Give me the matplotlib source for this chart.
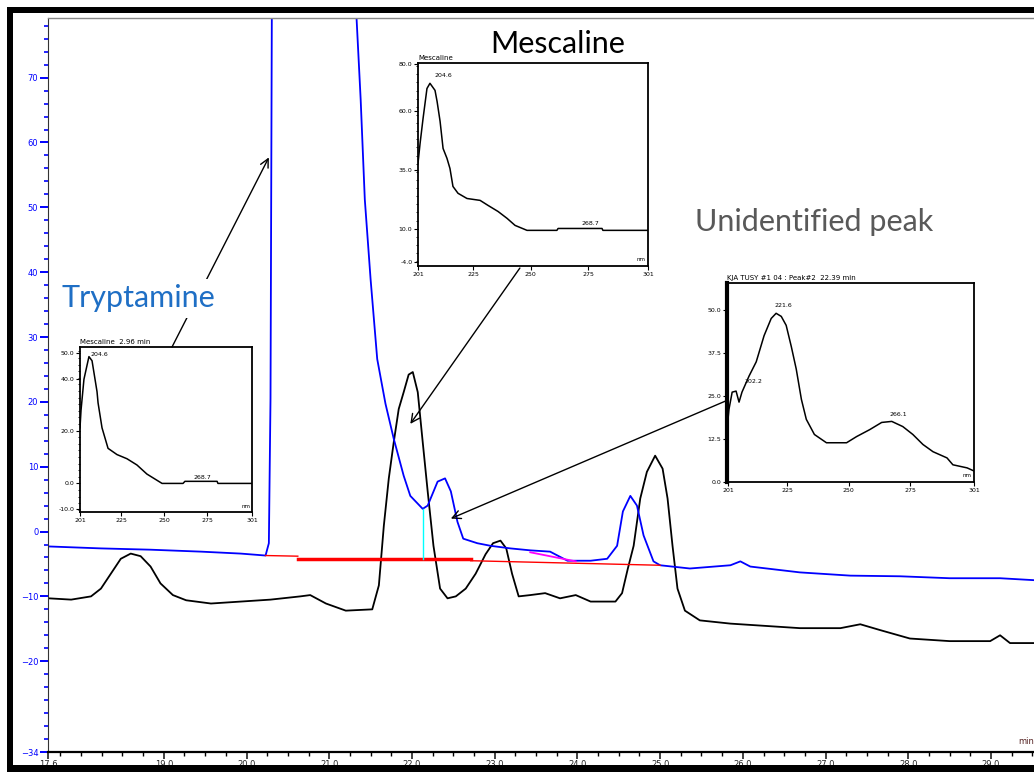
import matplotlib.pyplot as plt
from matplotlib.patches import ConnectionPatch, Rectangle
from matplotlib.ticker import MultipleLocator

# chromatogram traces (time in min, signal in mAU)
black_t = [17.61, 17.88, 18.12, 18.24, 18.36, 18.48, 18.60, 18.72, 18.84, 18.96,
           19.11, 19.27, 19.57, 19.93, 20.29, 20.65, 20.77, 20.96, 21.20, 21.52,
           21.60, 21.66, 21.72, 21.78, 21.84, 21.90, 21.96, 22.01, 22.07, 22.13,
           22.19, 22.26, 22.34, 22.43, 22.53, 22.65, 22.77, 22.89, 22.98, 23.07,
           23.14, 23.21, 23.29, 23.43, 23.61, 23.79, 23.98, 24.16, 24.46, 24.54,
           24.61, 24.68, 24.76, 24.84, 24.94, 25.03, 25.09, 25.15, 25.21, 25.30,
           25.48, 25.85, 26.21, 26.69, 27.18, 27.42, 27.66, 28.02, 28.50, 28.99,
           29.11, 29.23, 29.52]
black_y = [-10.3, -10.5, -10.0, -8.8, -6.5, -4.2, -3.4, -3.8, -5.4, -8.0,
           -9.8, -10.6, -11.1, -10.8, -10.5, -10.0, -9.8, -11.1, -12.2, -12.0,
           -8.3, 0.9, 8.2, 13.8, 18.9, 21.5, 24.2, 24.6, 21.5, 13.8,
           6.2, -2.2, -8.8, -10.3, -10.0, -8.8, -6.5, -3.5, -1.8, -1.4,
           -2.6, -6.5, -10.0, -9.8, -9.5, -10.3, -9.8, -10.8, -10.8, -9.5,
           -5.7, -2.2, 5.1, 9.2, 11.7, 9.7, 5.1, -2.2, -8.8, -12.2,
           -13.7, -14.2, -14.5, -14.9, -14.9, -14.3, -15.2, -16.5, -16.9, -16.9,
           -16.0, -17.2, -17.2]

blue_t = [17.61, 18.24, 18.84, 19.45, 19.93, 20.23, 20.27, 20.29, 20.31, 20.80,
          21.32, 21.33, 21.38, 21.43, 21.50, 21.58, 21.68, 21.78, 21.90, 21.98,
          22.13, 22.19, 22.31, 22.40, 22.47, 22.55, 22.62, 22.79, 22.95, 23.19,
          23.43, 23.67, 23.88, 24.16, 24.36, 24.48, 24.55, 24.64, 24.72, 24.80,
          24.92, 25.00, 25.36, 25.85, 25.97, 26.09, 26.69, 27.30, 27.90, 28.50,
          29.11, 29.52]
blue_y = [-2.3, -2.6, -2.8, -3.1, -3.4, -3.7, -1.8, 20.5, 95, 180,
          95, 79.2, 66.6, 51.2, 38.9, 26.6, 19.7, 14.3, 8.6, 5.5,
          3.5, 4.0, 7.7, 8.2, 6.2, 1.5, -1.1, -1.8, -2.2, -2.6,
          -2.9, -3.1, -4.5, -4.5, -4.2, -2.2, 3.1, 5.5, 4.0, -0.6,
          -4.6, -5.2, -5.7, -5.2, -4.6, -5.4, -6.3, -6.8, -6.9, -7.2,
          -7.2, -7.5]

# integration baselines
base1_t, base1_y = [20.23, 20.62], [-3.7, -3.8]
base2_t, base2_y = [20.62, 22.71], [-4.2, -4.2]
base3_t, base3_y = [22.71, 25.00], [-4.5, -5.2]
mag_t, mag_y = [23.43, 23.98], [-3.2, -4.6]
drop_t, drop_y = [22.13, 22.13], [3.5, -4.2]

# UV spectra (nm, mAU)
spec1_nm = [201.0, 201.6, 203.3, 206.2, 208.0, 210.9, 211.5, 213.8, 217.3, 222.5,
            228.3, 234.1, 239.9, 248.7, 260.9, 262.0, 280.7, 281.2, 301.0]
spec1_y = [21.4, 28.2, 40.1, 48.8, 47.2, 35.3, 31.0, 21.4, 13.5, 11.1,
           9.5, 7.1, 3.6, 0.0, 0.0, 0.8, 0.8, 0.0, 0.0]

spec2_nm = [201.0, 201.9, 203.2, 204.9, 206.2, 208.4, 209.3, 210.6, 211.9, 213.6,
            214.9, 216.2, 218.4, 222.3, 228.0, 231.4, 235.8, 239.7, 243.2, 248.4,
            261.4, 261.9, 281.0, 281.4, 301.0]
spec2_y = [38.0, 46.4, 57.0, 69.7, 71.9, 68.9, 64.2, 55.8, 44.3, 40.1,
           35.8, 28.2, 25.3, 23.1, 22.3, 20.2, 17.6, 14.7, 11.7, 9.6,
           9.6, 10.4, 10.4, 9.6, 9.6]

spec3_nm = [200.4, 201.2, 202.5, 204.1, 205.3, 206.5, 209.4, 212.3, 215.5, 218.4,
            220.4, 222.5, 224.5, 226.6, 228.6, 230.7, 232.7, 236.0, 240.9, 249.1,
            253.2, 258.5, 263.4, 267.5, 272.0, 276.1, 280.2, 284.3, 290.0, 292.4,
            298.2, 301.0]
spec3_y = [15.2, 21.1, 26.1, 26.4, 23.2, 26.1, 30.8, 34.9, 42.5, 47.5,
           49.0, 48.1, 45.5, 39.3, 32.8, 24.0, 18.2, 13.8, 11.4, 11.4,
           13.2, 15.2, 17.3, 17.6, 16.1, 13.8, 10.9, 8.8, 7.0, 5.0,
           4.1, 3.2]

W, H = 1034, 772
fig = plt.figure(figsize=(W / 100, H / 100), dpi=100)

# outer black frame of the screenshot
for x0, y0, w, h in [(7, 0, 6, 765), (7, 759, 1027, 6), (7, 0, 1027, 7)]:
    fig.add_artist(Rectangle((x0 / W, y0 / H), w / W, h / H, transform=fig.transFigure,
                             facecolor="black", edgecolor="none", zorder=10))

ax = fig.add_axes([48 / W, 20 / H, 1 - 48 / W, 734 / H])
ax.plot(black_t, black_y, color="black", lw=1.3, solid_joinstyle="round")
ax.plot(blue_t, blue_y, color="#0000ff", lw=1.3, solid_joinstyle="round")
ax.plot(base1_t, base1_y, color="red", lw=1.0)
ax.plot(base2_t, base2_y, color="red", lw=2.5)
ax.plot(base3_t, base3_y, color="red", lw=1.0)
ax.plot(mag_t, mag_y, color="magenta", lw=1.3)
ax.plot(drop_t, drop_y, color="cyan", lw=1.0)
ax.set_xlim(17.61, 29.52)
ax.set_ylim(-34, 79.2)

ax.spines["right"].set_visible(False)
ax.spines["top"].set_color("#888888")
ax.spines["top"].set_linewidth(1.0)
ax.spines["left"].set_color("#333333")
ax.spines["bottom"].set_linewidth(1.6)

ax.set_xticks([17.6] + list(range(19, 30)))
ax.set_xticklabels(["17.6"] + ["%.1f" % v for v in range(19, 30)])
ax.xaxis.set_minor_locator(MultipleLocator(0.25))
ax.tick_params(axis="x", which="major", length=5, width=1.2, labelsize=6, pad=1, colors="#222222")
ax.tick_params(axis="x", which="minor", length=3, width=1.0)

ax.set_yticks([-34, -20, -10, 0, 10, 20, 30, 40, 50, 60, 70])
ax.yaxis.set_minor_locator(MultipleLocator(2))
ax.tick_params(axis="y", which="major", length=6, width=1.4, labelsize=6, pad=1,
               color="#0000ff", labelcolor="#0000ff")
ax.tick_params(axis="y", which="minor", length=3, width=1.2, color="#0000ff")

fig.text(1018 / W, (H - 742) / H, "min", fontsize=6, color="#552222", ha="left", va="center")


def spectrum(rect, nm, y, ylim, yticks, title, labels):
    a = fig.add_axes(rect)
    a.plot(nm, y, color="black", lw=1.1)
    a.set_xlim(nm[0] if nm[0] < 201 else 201, 301)
    a.set_ylim(*ylim)
    a.set_xticks([201, 225, 250, 275, 301])
    a.set_yticks(yticks)
    a.set_yticklabels(["%.1f" % v for v in yticks])
    a.yaxis.set_minor_locator(MultipleLocator((ylim[1] - ylim[0]) / 25))
    a.tick_params(labelsize=4.5, length=3, width=0.8, pad=1)
    a.tick_params(which="minor", length=1.5, width=0.6)
    for s in a.spines.values():
        s.set_linewidth(1.3)
    a.set_title(title, fontsize=5, loc="left", pad=2)
    a.text(0.99, 0.02, "nm", transform=a.transAxes, fontsize=4, ha="right", va="bottom")
    for tx, ty, s in labels:
        a.text(tx, ty, s, fontsize=4.5, ha="center", va="bottom")
    return a


ins1 = spectrum([80 / W, (H - 512) / H, 172 / W, 165 / H], spec1_nm, spec1_y,
                (-11, 52.5), [-10, 0, 20, 40, 50], "Mescaline  2.96 min",
                [(212, 48.5, "204.6"), (272, 1.5, "268.7")])
ins2 = spectrum([418 / W, (H - 266) / H, 230 / W, 203 / H], spec2_nm, spec2_y,
                (-5.5, 80.5), [-4, 10, 35, 60, 80], "Mescaline",
                [(212, 74, "204.6"), (276, 11.5, "268.7")])
ins3 = spectrum([727 / W, (H - 482) / H, 247 / W, 199 / H], spec3_nm, spec3_y,
                (0, 57.8), [0, 12.5, 25, 37.5, 50], "KJA TUSY #1 04 : Peak#2  22.39 min",
                [(223.5, 50.5, "221.6"), (211, 28.5, "202.2"), (270, 19.0, "266.1")])
ins3.spines["left"].set_linewidth(3)

# arrows from spectra to peaks
for a, xa, xb in [(ins1, (0.535, 1.0), (20.27, 57.7)),
                  (ins2, (0.443, -0.01), (21.98, 16.6)),
                  (ins3, (0.0, 0.41), (22.47, 2.0))]:
    con = ConnectionPatch(xyA=xa, coordsA=a.transAxes, xyB=xb, coordsB=ax.transData,
                          arrowstyle="->,head_length=0.6,head_width=0.3", color="black", lw=1.0,
                          zorder=3)
    fig.add_artist(con)

fig.text(558 / W, (H - 44) / H, "Mescaline", fontsize=22, family="Lato", color="black",
         ha="center", va="center", zorder=5)
fig.text(695 / W, (H - 222) / H, "Unidentified peak", fontsize=22, family="Lato",
         color="#595959", ha="left", va="center", zorder=5)
fig.text(62 / W, (H - 298) / H, "Tryptamine", fontsize=22, family="Lato", color="#1f6fc5",
         ha="left", va="center", zorder=5,
         bbox=dict(facecolor="white", edgecolor="none", pad=4))

fig.savefig("out.png", dpi=100)
